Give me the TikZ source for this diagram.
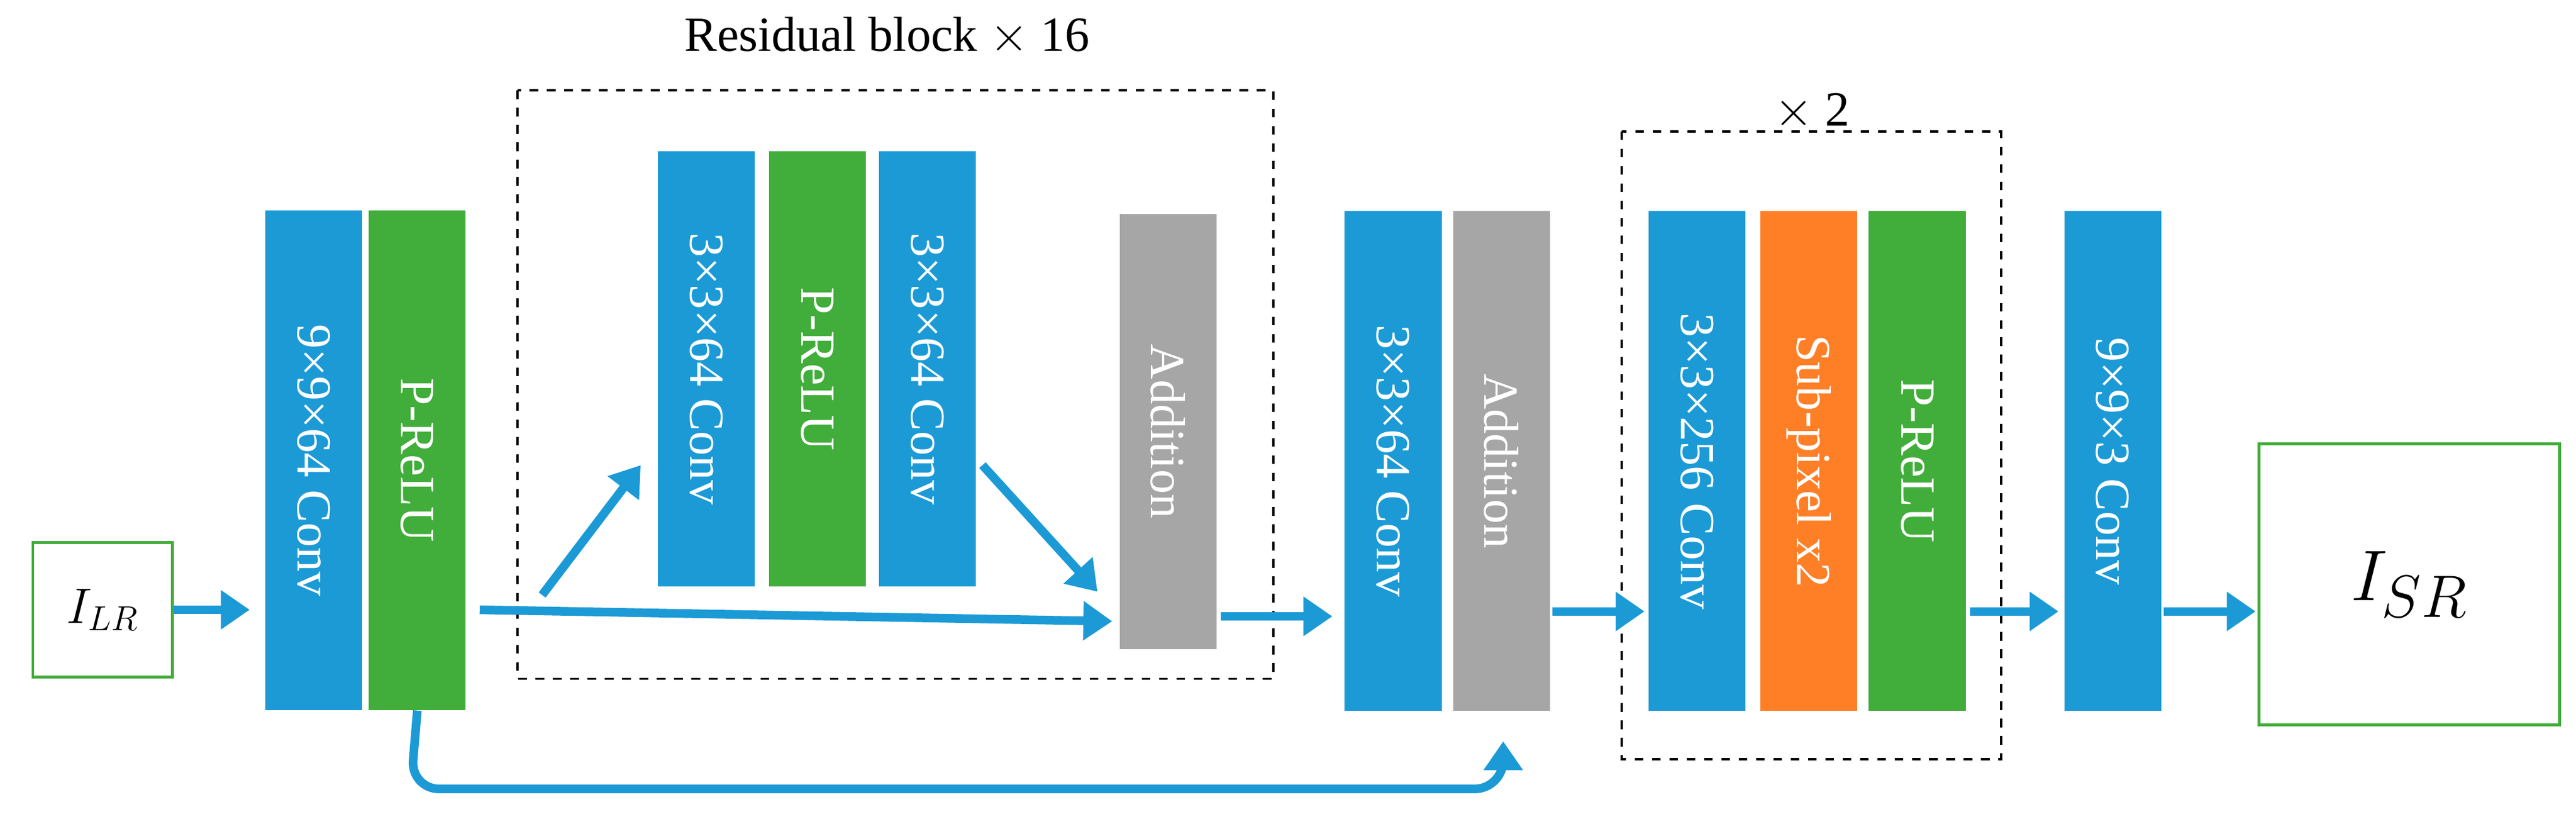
\documentclass[tikz,border=0pt]{standalone}
\usepackage{fontspec}
\setmainfont{Liberation Serif}
\usetikzlibrary{arrows.meta}
\definecolor{cblue}{HTML}{1B9AD6}
\definecolor{cgreen}{HTML}{41AD3A}
\definecolor{cgray}{HTML}{A6A6A6}
\definecolor{corange}{HTML}{FF7F27}
\begin{document}
\begin{tikzpicture}[x=0.02cm,y=-0.02cm,
  Layer/.style={rectangle, draw=none, minimum width=1.18cm, text=white,
    font=\fontsize{17}{19}\selectfont, inner sep=0pt},
  Tall/.style={Layer, minimum height=6.08cm},
  Short/.style={Layer, minimum height=5.3cm},
  IO/.style={rectangle, draw=cgreen, line width=1pt, fill=white},
  Group/.style={draw, dashed, line width=0.8pt},
  Arr/.style={-{Triangle[length=10pt,width=13pt]}, draw=cblue, line width=3pt},
  ]
  \useasboundingbox (0,0) rectangle (1568,498);
  % Groups
  \draw[Group] (315,55) rectangle (775,413);
  \draw[Group] (987,80) rectangle (1218,462);
  \node[font=\fontsize{17}{19}\selectfont] (t1) at (540,22) {Residual block $\times$ 16};
  \node[font=\fontsize{17}{19}\selectfont] (t2) at (1103,68) {$\times$ 2};
  % Nodes
  \node[IO, minimum width=1.7cm, minimum height=1.64cm] (lr) at (62.5,371) {\fontsize{17}{19}\selectfont$I_{LR}$};
  \node[Tall, fill=cblue] (c1) at (191,280) {\rotatebox{-90}{9×9×64 Conv}};
  \node[Tall, fill=cgreen] (p1) at (254,280) {\rotatebox{-90}{P-ReLU}};
  \node[Short, fill=cblue] (c2) at (430,224.5) {\rotatebox{-90}{3×3×64 Conv}};
  \node[Short, fill=cgreen] (p2) at (497.5,224.5) {\rotatebox{-90}{P-ReLU}};
  \node[Short, fill=cblue] (c3) at (564.5,224.5) {\rotatebox{-90}{3×3×64 Conv}};
  \node[Short, fill=cgray] (a1) at (711,262.5) {\rotatebox{-90}{Addition}};
  \node[Tall, fill=cblue] (c4) at (848,280.5) {\rotatebox{-90}{3×3×64 Conv}};
  \node[Tall, fill=cgray] (a2) at (914,280.5) {\rotatebox{-90}{Addition}};
  \node[Tall, fill=cblue] (c5) at (1033,280.5) {\rotatebox{-90}{3×3×256 Conv}};
  \node[Tall, fill=corange] (s1) at (1101,280.5) {\rotatebox{-90}{Sub-pixel x2}};
  \node[Tall, fill=cgreen] (p3) at (1167,280.5) {\rotatebox{-90}{P-ReLU}};
  \node[Tall, fill=cblue] (c6) at (1286,280.5) {\rotatebox{-90}{9×9×3 Conv}};
  \node[IO, minimum width=3.66cm, minimum height=3.42cm] (sr) at (1466.5,355.5) {\fontsize{28}{30}\selectfont$I_{SR}$};
  \coordinate (b0) at (330,362);
  \coordinate (b1) at (390,283);
  \coordinate (b2) at (598,283);
  \coordinate (b3) at (668,360);
  % Lines
  \draw[Arr] (lr.east) -- (152,371);
  \draw[Arr] (292,371) -- (677,378);
  \draw[Arr] (b0) -- (b1);
  \draw[Arr] (b2) -- (b3);
  \draw[Arr] (743,375) -- (811,375);
  \draw[Arr] (945,372) -- (1001,372);
  \draw[Arr] (1199,372) -- (1253,372);
  \draw[Arr] (1317,372) -- (1373,372);
  \draw[Arr, rounded corners=0.35cm] (p1.south) -- (250,480) -- (915,480) -- (915,451);
\end{tikzpicture}
\end{document}
